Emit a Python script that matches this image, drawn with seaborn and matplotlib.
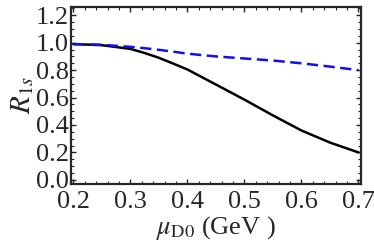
import numpy as np
import pandas as pd
import seaborn as sns
import matplotlib.pyplot as plt
from matplotlib.ticker import AutoMinorLocator, MultipleLocator

# values
mu_d0 = [0.20, 0.25, 0.30, 0.325, 0.35, 0.375, 0.40, 0.45, 0.50, 0.55, 0.60, 0.65, 0.70]
r1s_solid = [0.99, 0.982, 0.955, 0.925, 0.89, 0.848, 0.805, 0.695, 0.585, 0.47, 0.36, 0.272, 0.20]
r1s_dashed = [0.99, 0.985, 0.97, 0.96, 0.948, 0.935, 0.92, 0.90, 0.885, 0.87, 0.85, 0.826, 0.80]

sns.set_style("ticks")
plt.rcParams["font.family"] = ["Liberation Serif", "DejaVu Serif"]
plt.rcParams["mathtext.fontset"] = "stix"

df = pd.DataFrame({
    "mu": mu_d0 * 2,
    "R": r1s_solid + r1s_dashed,
    "case": ["solid"] * len(mu_d0) + ["dashed"] * len(mu_d0),
})

fig, ax = plt.subplots(figsize=(3.74, 2.52), dpi=100)
fig.subplots_adjust(left=0.19, right=0.966, top=0.972, bottom=0.27)

sns.lineplot(data=df[df["case"] == "solid"], x="mu", y="R", color="black",
             linewidth=1.8, ax=ax)
sns.lineplot(data=df[df["case"] == "dashed"], x="mu", y="R", color="#1010ee",
             linewidth=1.8, ax=ax)
ax.lines[-1].set_dashes([4.5, 2.2])

ax.set_xlim(0.196, 0.705)
ax.set_ylim(-0.03, 1.26)
ax.xaxis.set_major_locator(MultipleLocator(0.1))
ax.yaxis.set_major_locator(MultipleLocator(0.2))
ax.xaxis.set_minor_locator(AutoMinorLocator(5))
ax.yaxis.set_minor_locator(AutoMinorLocator(4))
ax.tick_params(which="both", direction="in", top=True, right=True, labelsize=19)
ax.tick_params(axis="y", pad=1.5)
ax.tick_params(axis="x", pad=5)
ax.tick_params(which="major", length=3.5, width=1.0)
ax.tick_params(which="minor", length=2, width=0.8)
for s in ax.spines.values():
    s.set_linewidth(1.6)

ax.set_xlabel(r"$\mu_{\rm D0}$ (GeV )", fontsize=19, labelpad=1)
ax.set_ylabel(r"$R_{1s}$", fontsize=21, labelpad=0)

fig.savefig("out.png", dpi=100)
